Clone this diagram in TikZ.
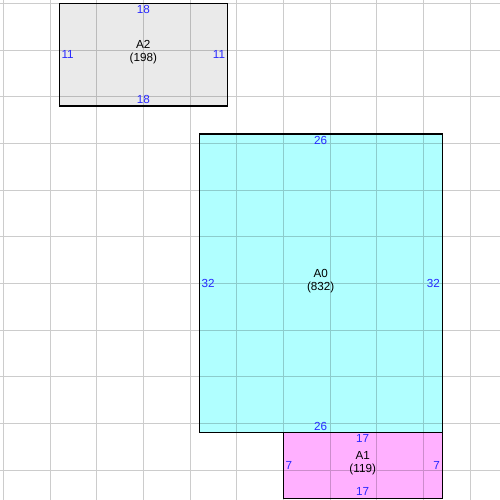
\documentclass[tikz,border=0pt]{standalone}
\usepackage{fontspec}
\setmainfont{Liberation Sans}
\definecolor{roomcyan}{RGB}{176,255,255}
\definecolor{roompink}{RGB}{255,176,255}
\definecolor{roomgray}{RGB}{234,234,234}
\definecolor{sideblue}{RGB}{40,40,255}
\begin{document}
\begin{tikzpicture}[x=0.25cm,y=-0.25cm,
	room/.style={draw=black,line width=0.8pt},
	gridline/.style={draw=black,draw opacity=0.2,line width=0.75pt},
	side/.style={text=sideblue,font=\fontsize{8.9}{10}\selectfont,inner sep=1.5pt},
	title/.style={align=center,font=\fontsize{8.9}{10}\selectfont,inner sep=0pt}]
	\useasboundingbox (-0.357,-0.357) rectangle (53.21,53.21);
	\fill[roomgray] (6,0) rectangle (24,11);
	\fill[roomcyan] (21,14) rectangle (47,46);
	\fill[roompink] (30,46) rectangle (47,53);
	\draw[gridline] \foreach \k in {0,5,...,50}{(\k,-0.5) -- (\k,53.5) (-0.5,\k) -- (53.5,\k)};
	\draw[room] (6,0) rectangle (24,11);
	\draw[room] (21,14) rectangle (47,46);
	\draw[room] (30,46) rectangle (47,53);
	\node[title] (a2) at (15,5.25) {A2\\(198)};
	\node[side,anchor=north] (a2top) at (15,0) {18};
	\node[side,anchor=south] (a2bot) at (15,11) {18};
	\node[side,anchor=west] (a2left) at (6,5.5) {11};
	\node[side,anchor=east] (a2right) at (24,5.5) {11};
	\node[title] (a0) at (34,29.8) {A0\\(832)};
	\node[side,anchor=north] (a0top) at (34,14) {26};
	\node[side,anchor=south] (a0bot) at (34,46) {26};
	\node[side,anchor=west] (a0left) at (21,30) {32};
	\node[side,anchor=east] (a0right) at (47,30) {32};
	\node[title] (a1) at (38.5,49.3) {A1\\(119)};
	\node[side,anchor=north] (a1top) at (38.5,46) {17};
	\node[side,anchor=south] (a1bot) at (38.5,53) {17};
	\node[side,anchor=west] (a1left) at (30,49.5) {7};
	\node[side,anchor=east] (a1right) at (47,49.5) {7};
\end{tikzpicture}
\end{document}
